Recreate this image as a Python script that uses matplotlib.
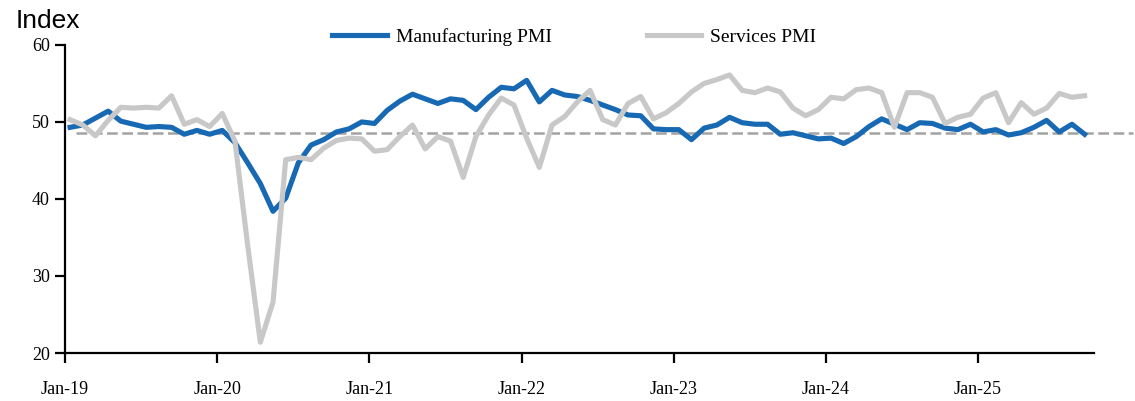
import matplotlib
matplotlib.use("Agg")
import matplotlib.pyplot as plt
import numpy as np

# monthly readings, Jan-19 .. Sep-25
manufacturing = [49.3, 49.6, 50.5, 51.4, 50.1, 49.7, 49.3, 49.4, 49.3, 48.4, 48.9, 48.4,
                 48.9, 47.3, 44.7, 42.0, 38.4, 40.1, 44.7, 47.0, 47.7, 48.7, 49.1, 50.0,
                 49.8, 51.5, 52.7, 53.6, 53.0, 52.4, 53.0, 52.8, 51.6, 53.2, 54.5, 54.3,
                 55.4, 52.6, 54.1, 53.5, 53.3, 52.8, 52.2, 51.6, 50.9, 50.8, 49.1, 49.0,
                 49.0, 47.7, 49.2, 49.6, 50.6, 49.9, 49.7, 49.7, 48.4, 48.6, 48.2, 47.8,
                 47.9, 47.2, 48.1, 49.4, 50.4, 49.7, 49.0, 49.9, 49.8, 49.2, 49.0, 49.7,
                 48.7, 49.0, 48.3, 48.6, 49.3, 50.2, 48.7, 49.7, 48.4]
services = [50.3, 49.6, 48.2, 50.2, 51.9, 51.8, 51.9, 51.8, 53.4, 49.7, 50.3, 49.4,
            51.1, 47.5, 34.0, 21.4, 26.6, 45.1, 45.4, 45.1, 46.6, 47.6, 47.9, 47.8,
            46.2, 46.4, 48.1, 49.6, 46.5, 48.1, 47.5, 42.8, 48.1, 50.9, 53.1, 52.2,
            47.9, 44.1, 49.6, 50.7, 52.6, 54.1, 50.3, 49.6, 52.4, 53.3, 50.4, 51.2,
            52.4, 53.9, 55.0, 55.5, 56.1, 54.1, 53.8, 54.4, 53.9, 51.8, 50.8, 51.6,
            53.2, 53.0, 54.2, 54.4, 53.8, 49.3, 53.8, 53.8, 53.2, 49.8, 50.6, 51.0,
            53.1, 53.8, 49.9, 52.5, 51.0, 51.8, 53.7, 53.2, 53.4]
ref_level = 48.6
tick_labels = ["Jan-19", "Jan-20", "Jan-21", "Jan-22", "Jan-23", "Jan-24", "Jan-25"]
y_ticks = [20, 30, 40, 50, 60]

blue = "#1769b3"
grey = "#c8c8c8"

plt.rcParams["font.family"] = ["Liberation Serif", "DejaVu Serif"]

fig = plt.figure(figsize=(11.35, 4.01), dpi=100)
ax = fig.add_axes([0.0573, 0.1197, 0.9067, 0.7683])

x = np.arange(len(manufacturing)) + 0.4

ax.plot([0.9, 84.2], [ref_level, ref_level], color="#a3a3a3", lw=1.8,
        dashes=(4.3, 1.8), clip_on=False, zorder=1)
ax.plot(x, manufacturing, color=blue, lw=3.7, label="Manufacturing PMI", zorder=3)
ax.plot(x, services, color=grey, lw=3.7, label="Services PMI", zorder=3)

ax.set_xlim(0, 81.15)
ax.set_ylim(20, 60)
ax.set_xticks(np.arange(len(tick_labels)) * 12)
ax.set_xticklabels(tick_labels)
ax.set_yticks(y_ticks)

for s in ["top", "right"]:
    ax.spines[s].set_visible(False)
for s in ["left", "bottom"]:
    ax.spines[s].set_linewidth(1.6)
ax.tick_params(axis="both", direction="out", length=7, width=1.6, labelsize=13, colors="black")
ax.tick_params(axis="x", pad=13)
ax.tick_params(axis="y", pad=4)

fig.text(0.014, 0.93, "Index", fontsize=19, family=["Liberation Sans", "DejaVu Sans"],
         ha="left", va="baseline")

fig.legend(loc="center", bbox_to_anchor=(0.506, 0.908), ncol=2, frameon=False,
           fontsize=14, handlelength=2.8, handletextpad=0.45, columnspacing=4.9)

fig.savefig("out.png", dpi=100)
